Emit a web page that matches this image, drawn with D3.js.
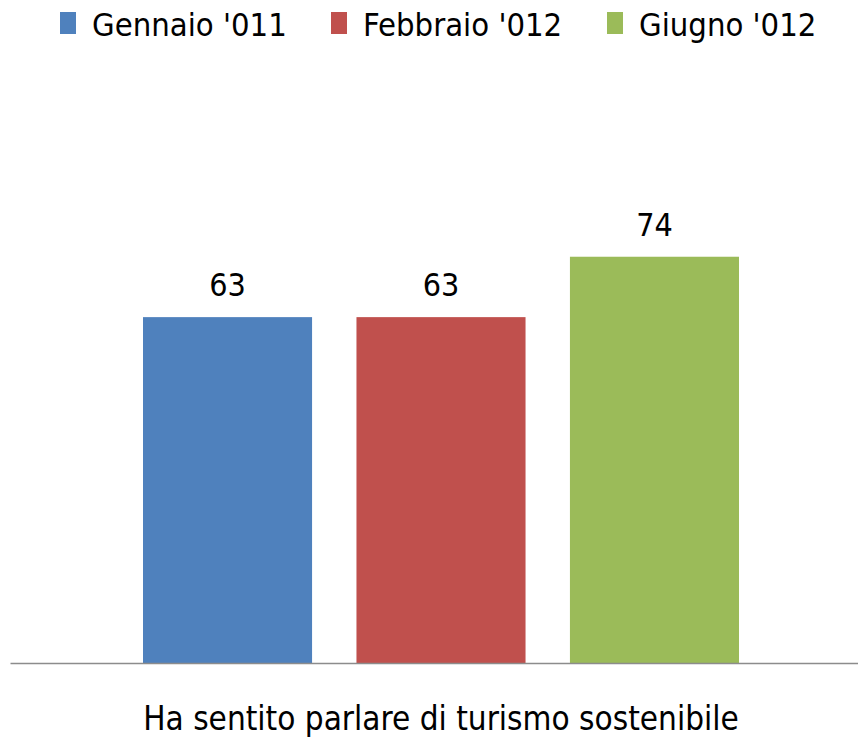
<!DOCTYPE html>
<html>
<head>
<meta charset="utf-8">
<script src="https://cdn.jsdelivr.net/npm/d3@7"></script>
<style>
  body { margin: 0; background: #fff; }
  text { font-family: "DejaVu Sans Condensed", "Open Sans", sans-serif; fill: #000; }
</style>
</head>
<body>
<svg id="chart" width="858" height="738"></svg>
<script>
// data
var categories = ["Ha sentito parlare di turismo sostenibile"];
var seriesNames = ["Gennaio '011", "Febbraio '012", "Giugno '012"];
var seriesValues = [63, 63, 74];
var seriesColors = ["#4f81bd", "#c0504d", "#9bbb59"];

var svg = d3.select("#chart");
var margin = {top: 114, right: 0, bottom: 75, left: 10},
    width = +svg.attr("width") - margin.left - margin.right,
    height = +svg.attr("height") - margin.top - margin.bottom;

var g = svg.append("g")
    .attr("transform", "translate(" + margin.left + "," + margin.top + ")");

// scales
var x0 = d3.scaleBand()
    .domain(categories)
    .range([0, width]);

var x1 = d3.scaleBand()
    .domain(seriesNames)
    .range([133, 729])
    .paddingInner(0.208)
    .paddingOuter(0);

var y = d3.scaleLinear()
    .domain([0, 100])
    .range([height, 0]);

var rows = seriesNames.map(function(name, i) {
    return {name: name, value: seriesValues[i], color: seriesColors[i], cat: categories[0]};
});

// bars
g.selectAll(".bar")
    .data(rows)
    .enter().append("rect")
    .attr("class", "bar")
    .attr("x", function(d) { return x0(d.cat) + x1(d.name); })
    .attr("y", function(d) { return y(d.value); })
    .attr("width", x1.bandwidth())
    .attr("height", function(d) { return height - y(d.value); })
    .style("fill", function(d) { return d.color; });

// value labels
g.selectAll(".val")
    .data(rows)
    .enter().append("text")
    .attr("class", "val")
    .attr("x", function(d) { return x0(d.cat) + x1(d.name) + x1.bandwidth() / 2; })
    .attr("y", function(d) { return y(d.value) - 21; })
    .attr("text-anchor", "middle")
    .style("font-size", "32px")
    .text(function(d) { return d.value; });

// x axis
var xAxis = g.append("g")
    .attr("transform", "translate(0," + height + ")")
    .call(d3.axisBottom(x0).tickSize(0).tickPadding(44));
xAxis.select(".domain").attr("stroke", "#8c8c8c").attr("stroke-width", 1.5);
xAxis.selectAll("text")
    .style("font-size", "33px")
    .attr("dx", 7)
    .attr("font-family", null);

// legend
var legendX = [60, 331, 607];
var legend = svg.append("g").attr("class", "legend");
var items = legend.selectAll("g")
    .data(rows)
    .enter().append("g")
    .attr("transform", function(d, i) { return "translate(" + legendX[i] + ",12)"; });
items.append("rect")
    .attr("width", 16)
    .attr("height", 22)
    .style("fill", function(d) { return d.color; });
items.append("text")
    .attr("x", 32)
    .attr("y", 24)
    .style("font-size", "32.5px")
    .text(function(d) { return d.name; });
</script>
</body>
</html>
